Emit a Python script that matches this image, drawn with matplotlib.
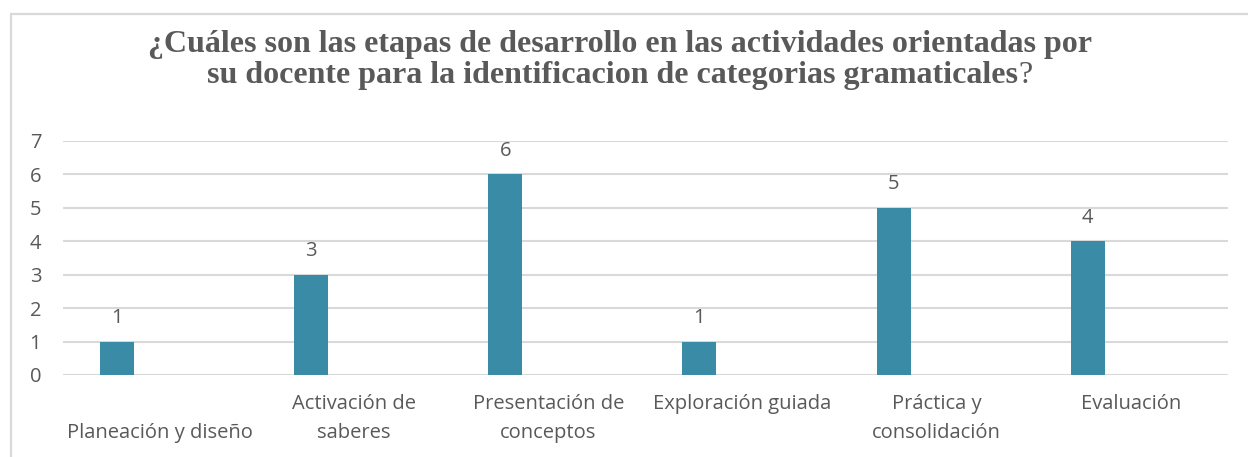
import matplotlib
matplotlib.use("Agg")
import matplotlib.pyplot as plt
from matplotlib.patches import Rectangle

# data
categories = ["\nPlaneación y diseño", "Activación de\nsaberes", "Presentación de\nconceptos",
              "Exploración guiada", "Práctica y\nconsolidación", "Evaluación"]
values = [1, 3, 6, 1, 5, 4]
y_ticks = [0, 1, 2, 3, 4, 5, 6, 7]

title_line1 = "¿Cuáles son las etapas de desarrollo en las actividades orientadas por"
title_line2 = "su docente para la identificacion de categorias gramaticales"

W, H = 1248, 457
TEXT = "#595959"
GRID = "#D9D9D9"
BAR = "#3A8BA5"
FS = 14.5

plt.rcParams['font.family'] = ['Open Sans', 'DejaVu Sans']

fig = plt.figure(figsize=(W / 100, H / 100), dpi=100)
fig.patch.set_facecolor("white")

# chart border (cropped on right and bottom)
fig.add_artist(Rectangle((11 / W, -0.1), 1.2, (H - 14) / H + 0.1, transform=fig.transFigure,
                         fill=False, edgecolor=GRID, linewidth=1.6))

ax = fig.add_axes([63 / W, 82 / H, (1228 - 63) / W, (375 - 141) / H])
x = list(range(len(categories)))
xb = [i - 0.222 for i in x]
bars = ax.bar(xb, values, width=0.175, color=BAR, zorder=3)

for xi, v in zip(xb, values):
    ax.annotate(str(v), (xi, v), xytext=(0, 17), textcoords="offset points",
                ha="center", va="center", fontsize=FS, color=TEXT)

ax.set_xlim(-0.5, len(categories) - 0.5)
ax.set_ylim(0, 7)
ax.set_yticks(y_ticks)
ax.set_yticklabels([str(t) for t in y_ticks])
ax.set_xticks(x)
ax.set_xticklabels(categories, linespacing=1.6)
ax.tick_params(axis="both", length=0, labelsize=FS, labelcolor=TEXT)
ax.tick_params(axis="x", pad=14)
for lbl in ax.get_yticklabels():
    lbl.set_horizontalalignment("left")
ax.yaxis.set_tick_params(pad=24)
ax.grid(axis="y", color=GRID, linewidth=1.5, zorder=0)
for s in ax.spines.values():
    s.set_visible(False)

# title: bold lines, non-bold question mark
tfont = dict(family="Liberation Serif", fontsize=23, color=TEXT)
fig.text(620 / W, 1 - 52 / H, title_line1, ha="center", va="baseline", fontweight="bold", **tfont)
t2 = fig.text(0, 1 - 83 / H, title_line2, ha="left", va="baseline", fontweight="bold", **tfont)
q = fig.text(0, 1 - 83 / H, "?", ha="left", va="baseline", **tfont)
fig.canvas.draw()
r = fig.canvas.get_renderer()
w2 = t2.get_window_extent(r).width
wq = q.get_window_extent(r).width
x0 = 620 - (w2 + wq) / 2
t2.set_x(x0 / W)
q.set_x((x0 + w2) / W)

fig.savefig("out.png", dpi=100)
